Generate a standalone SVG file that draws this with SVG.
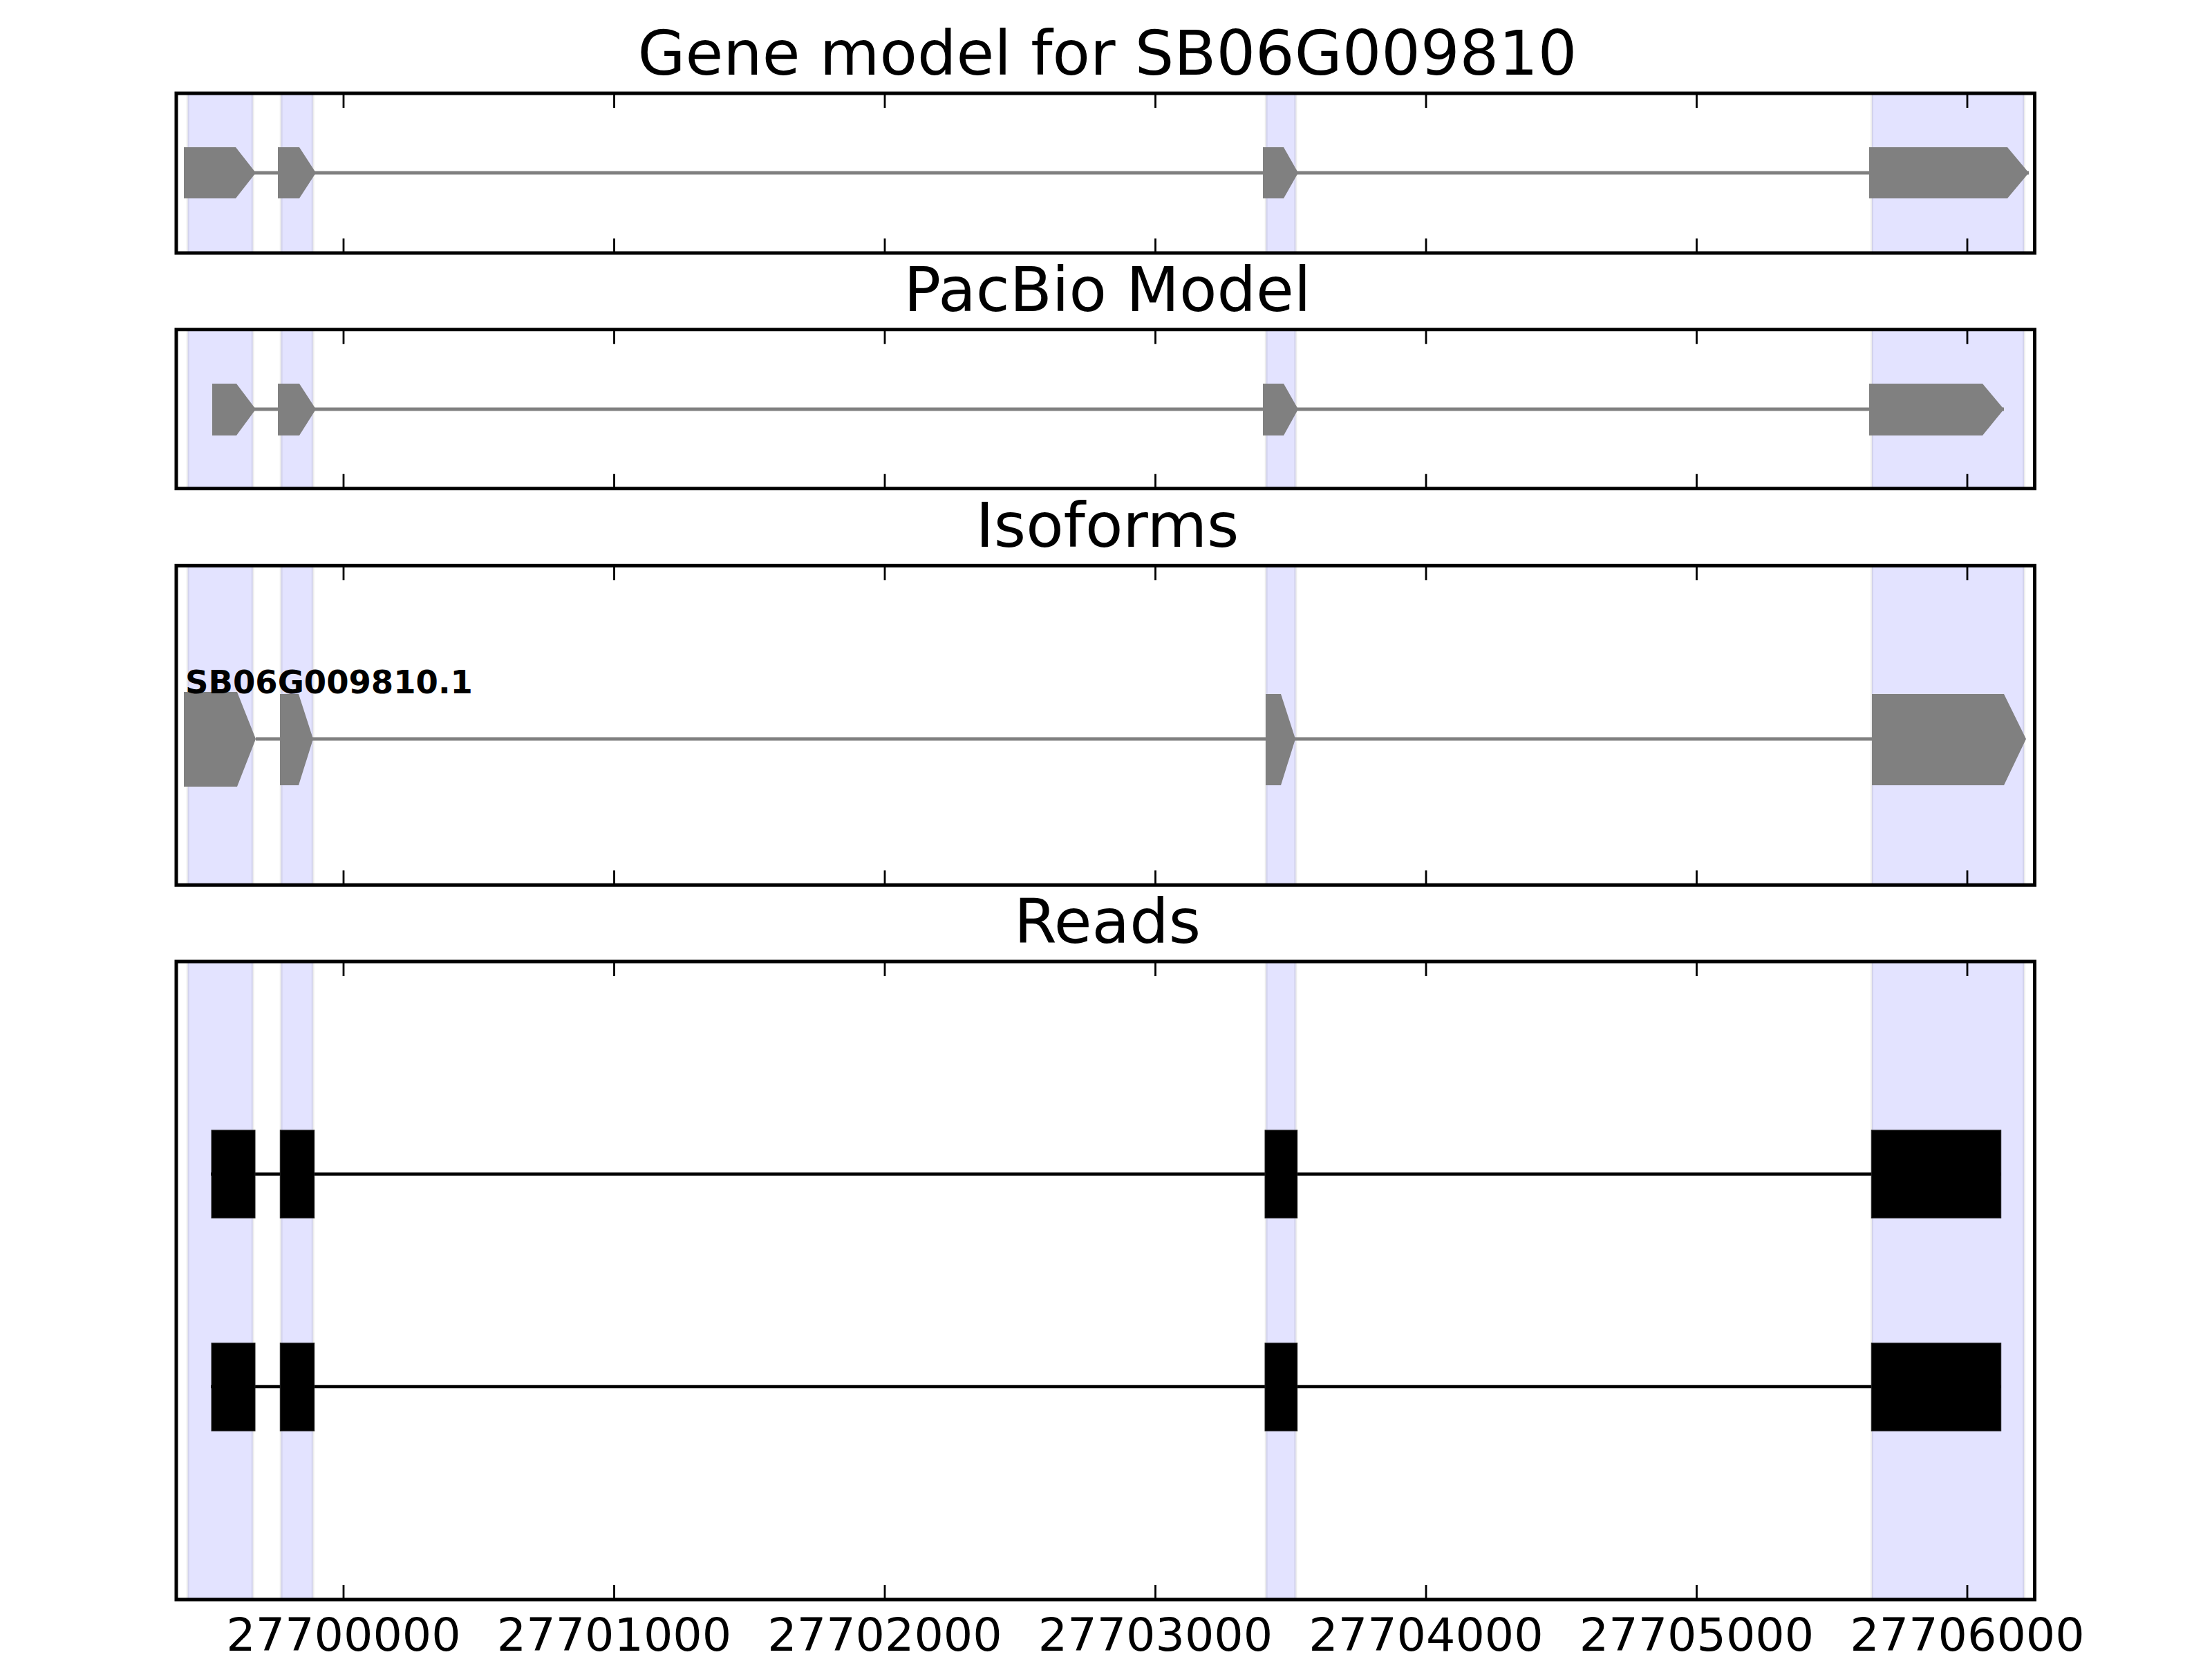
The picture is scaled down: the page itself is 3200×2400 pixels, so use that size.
<svg xmlns="http://www.w3.org/2000/svg" width="3200" height="2400" viewBox="0 0 3200 2400">
<style>
.title{font-family:"DejaVu Sans",sans-serif;font-size:89px;text-anchor:middle;fill:#000}
.tick{font-family:"DejaVu Sans",sans-serif;font-size:66.7px;text-anchor:middle;fill:#000}
.lbl{font-family:"DejaVu Sans",sans-serif;font-size:46.5px;font-weight:bold;fill:#000}
.band{fill:#0000ff;fill-opacity:0.11;stroke:#000;stroke-opacity:0.07;stroke-width:4}
.frame{fill:none;stroke:#000;stroke-width:5}
.tk{stroke:#000;stroke-width:2.8}
.exon{fill:#808080}
.intron{stroke:#808080;stroke-width:5}
.rexon{fill:#000;stroke:#222;stroke-width:1}
.rintron{stroke:#000;stroke-width:4.5}
</style>
<defs>
<path id="ticksTop" d="M497 0v21M888.5 0v21M1280 0v21M1671.5 0v21M2063 0v21M2454.5 0v21M2846 0v21"/>
<path id="ticksBot" d="M497 0v-21M888.5 0v-21M1280 0v-21M1671.5 0v-21M2063 0v-21M2454.5 0v-21M2846 0v-21"/>
</defs>
<rect width="3200" height="2400" fill="#fff"/>

<!-- Panel 1: Gene model -->
<g id="panel-gene-model">
<text class="title" x="1602" y="108">Gene model for SB06G009810</text>
<g class="band">
<rect x="271.7" y="135" width="94" height="231"/>
<rect x="406.7" y="135" width="46" height="231"/>
<rect x="1831.7" y="135" width="42.6" height="231"/>
<rect x="2708" y="135" width="220" height="231"/>
</g>
<g id="gene-model-track">
<line class="intron" x1="266" y1="250" x2="2935" y2="250"/>
<polygon class="exon" points="266,213 341,213 370,250 341,287 266,287"/>
<polygon class="exon" points="402,213 433,213 457,250 433,287 402,287"/>
<polygon class="exon" points="1827,213 1857,213 1878,250 1857,287 1827,287"/>
<polygon class="exon" points="2704,213 2904,213 2935,250 2904,287 2704,287"/>
</g>
<use href="#ticksTop" class="tk" y="135"/>
<use href="#ticksBot" class="tk" y="366"/>
<rect class="frame" x="255" y="135" width="2688.5" height="231"/>
</g>

<!-- Panel 2: PacBio Model -->
<g id="panel-pacbio">
<text class="title" x="1602" y="450">PacBio Model</text>
<g class="band">
<rect x="271.7" y="476.7" width="94" height="230"/>
<rect x="406.7" y="476.7" width="46" height="230"/>
<rect x="1831.7" y="476.7" width="42.6" height="230"/>
<rect x="2708" y="476.7" width="220" height="230"/>
</g>
<g id="pacbio-track">
<line class="intron" x1="307" y1="592" x2="2899" y2="592"/>
<polygon class="exon" points="307,555 342,555 370,592 342,630 307,630"/>
<polygon class="exon" points="402,555 433,555 457,592 433,630 402,630"/>
<polygon class="exon" points="1827,555 1857,555 1878,592 1857,630 1827,630"/>
<polygon class="exon" points="2704,555 2868,555 2899,592 2868,630 2704,630"/>
</g>
<use href="#ticksTop" class="tk" y="476.7"/>
<use href="#ticksBot" class="tk" y="706.7"/>
<rect class="frame" x="255" y="476.7" width="2688.5" height="230"/>
</g>

<!-- Panel 3: Isoforms -->
<g id="panel-isoforms">
<text class="title" x="1602" y="791">Isoforms</text>
<g class="band">
<rect x="271.7" y="818.3" width="94" height="462"/>
<rect x="406.7" y="818.3" width="46" height="462"/>
<rect x="1831.7" y="818.3" width="42.6" height="462"/>
<rect x="2708" y="818.3" width="220" height="462"/>
</g>
<g id="isoform-SB06G009810.1">
<line class="intron" x1="370" y1="1069" x2="2708" y2="1069"/>
<polygon class="exon" points="266,1001 343,1001 370,1069 343,1138 266,1138"/>
<polygon class="exon" points="405,1004 432,1004 453,1069 432,1136 405,1136"/>
<polygon class="exon" points="1831,1004 1853,1004 1874,1069 1853,1136 1831,1136"/>
<polygon class="exon" points="2708,1004 2899,1004 2931,1069 2899,1136 2708,1136"/>
<text class="lbl" x="268" y="1003">SB06G009810.1</text>
</g>
<use href="#ticksTop" class="tk" y="818.3"/>
<use href="#ticksBot" class="tk" y="1280.3"/>
<rect class="frame" x="255" y="818.3" width="2688.5" height="462"/>
</g>

<!-- Panel 4: Reads -->
<g id="panel-reads">
<text class="title" x="1602" y="1364">Reads</text>
<g class="band">
<rect x="271.7" y="1391" width="94" height="923"/>
<rect x="406.7" y="1391" width="46" height="923"/>
<rect x="1831.7" y="1391" width="42.6" height="923"/>
<rect x="2708" y="1391" width="220" height="923"/>
</g>
<g id="read-1">
<line class="rintron" x1="305" y1="1698.5" x2="2895" y2="1698.5"/>
<rect class="rexon" x="306" y="1635" width="63" height="127"/>
<rect class="rexon" x="405.3" y="1635" width="49.4" height="127"/>
<rect class="rexon" x="1830" y="1635" width="46.7" height="127"/>
<rect class="rexon" x="2707.3" y="1635" width="187.4" height="127"/>
</g>
<g id="read-2">
<line class="rintron" x1="305" y1="2006" x2="2895" y2="2006"/>
<rect class="rexon" x="306" y="1943" width="63" height="127"/>
<rect class="rexon" x="405.3" y="1943" width="49.4" height="127"/>
<rect class="rexon" x="1830" y="1943" width="46.7" height="127"/>
<rect class="rexon" x="2707.3" y="1943" width="187.4" height="127"/>
</g>
<use href="#ticksTop" class="tk" y="1391"/>
<use href="#ticksBot" class="tk" y="2314"/>
<rect class="frame" x="255" y="1391" width="2688.5" height="923"/>
<g id="x-axis-labels">
<text class="tick" x="497" y="2388">27700000</text>
<text class="tick" x="888.5" y="2388">27701000</text>
<text class="tick" x="1280" y="2388">27702000</text>
<text class="tick" x="1671.5" y="2388">27703000</text>
<text class="tick" x="2063" y="2388">27704000</text>
<text class="tick" x="2454.5" y="2388">27705000</text>
<text class="tick" x="2846" y="2388">27706000</text>
</g>
</g>
</svg>
